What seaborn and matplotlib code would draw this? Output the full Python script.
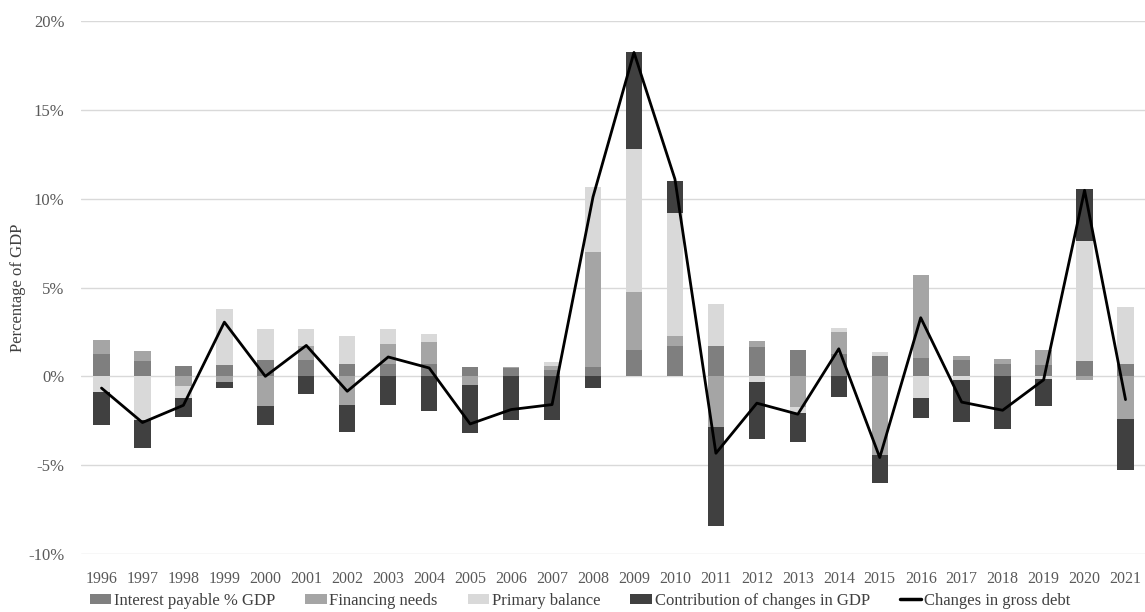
import numpy as np
import matplotlib
matplotlib.use("Agg")
import matplotlib.pyplot as plt
from matplotlib.patches import Patch
from matplotlib.lines import Line2D
from matplotlib.ticker import FuncFormatter
import seaborn as sns

# Debt dynamics decomposition, % of GDP
years = [str(y) for y in range(1996, 2022)]

interest_payable = [1.27, 0.84, 0.60, 0.64, 0.94, 0.90, 0.69, 0.71, 0.71, 0.52,
                    0.47, 0.34, 0.52, 1.51, 1.71, 1.71, 1.63, 1.47, 1.28, 1.17,
                    1.04, 0.91, 0.69, 0.66, 0.88, 0.71]

financing_needs = [0.79, 0.56, -0.52, -0.32, -1.69, 0.79, -1.59, 1.12, 1.24, -0.50,
                   0.06, 0.26, 6.48, 3.22, 0.56, -2.86, 0.34, -1.75, 1.21, -4.43,
                   4.66, 0.23, 0.28, 0.84, -0.19, -2.38]

primary_balance = [-0.90, -2.47, -0.69, 3.13, 1.74, 0.99, 1.59, 0.82, 0.45, 0.00,
                   0.00, 0.21, 3.68, 8.07, 6.90, 2.37, -0.34, -0.32, 0.25, 0.21,
                   -1.23, -0.19, 0.00, -0.15, 6.72, 3.19]

gdp_contribution = [-1.82, -1.59, -1.07, -0.32, -1.03, -0.99, -1.55, -1.59, -1.93, -2.70,
                    -2.43, -2.43, -0.64, 5.43, 1.85, -5.59, -3.18, -1.60, -1.17, -1.57,
                    -1.13, -2.40, -2.95, -1.54, 2.96, -2.87]

gross_debt_change = [-0.66, -2.60, -1.63, 3.05, 0.00, 1.74, -0.84, 1.09, 0.47, -2.68,
                     -1.87, -1.59, 10.10, 18.23, 11.10, -4.33, -1.51, -2.13, 1.55, -4.57,
                     3.30, -1.45, -1.91, -0.20, 10.47, -1.31]

series_names = ["Interest payable % GDP", "Financing needs", "Primary balance",
                "Contribution of changes in GDP"]
series_values = [interest_payable, financing_needs, primary_balance, gdp_contribution]
series_colors = ["#7f7f7f", "#a5a5a5", "#d9d9d9", "#404040"]
line_name = "Changes in gross debt"

sns.set_theme(style="white")
plt.rcParams["font.family"] = ["Liberation Serif", "DejaVu Serif"]

W, H = 1145, 612
fig = plt.figure(figsize=(W / 100, H / 100), dpi=100)
ax = fig.add_axes([81 / W, 1 - 554 / H, (1146 - 81) / W, (554 - 21) / H])

# Stacked bars: positives build upward from zero, negatives downward
n = len(years)
pos_base = np.zeros(n)
neg_base = np.zeros(n)
for name, values, color in zip(series_names, series_values, series_colors):
    v = np.asarray(values, dtype=float)
    bottom = np.where(v >= 0, pos_base, neg_base)
    sns.barplot(x=years, y=v, bottom=bottom, color=color, saturation=1,
                width=0.4, linewidth=0, errorbar=None, ax=ax, zorder=2)
    pos_base += np.where(v >= 0, v, 0)
    neg_base += np.where(v < 0, v, 0)

sns.lineplot(x=np.arange(n), y=gross_debt_change, color="black", linewidth=2.0,
             ax=ax, zorder=3)

ax.set_xlim(-0.5, n - 0.5)
ax.set_ylim(-10, 20)
ax.set_yticks(range(-10, 21, 5))
ax.yaxis.set_major_formatter(FuncFormatter(lambda v, _: f"{int(v)}%"))
ax.set_xticks(range(n))
ax.set_xticklabels(years)
ax.grid(axis="y", color="#d9d9d9", linewidth=1.0, zorder=0)
ax.set_axisbelow(True)
for s in ax.spines.values():
    s.set_visible(False)
ax.tick_params(axis="both", length=0, labelsize=12, colors="#595959")
ax.tick_params(axis="x", labelsize=11.5, pad=12)
ax.tick_params(axis="y", pad=12)
ax.set_xlabel("")
ax.set_ylabel("")

fig.text(18 / W, 1 - 288 / H, "Percentage of GDP", rotation=90, ha="center",
         va="center", fontsize=12, color="#404040")

handles = [Patch(facecolor=c, edgecolor="none") for c in series_colors]
handles.append(Line2D([0], [0], color="black", linewidth=2.5))
fig.legend(handles, series_names + [line_name], loc="center",
           bbox_to_anchor=(580 / W, 1 - 601 / H), ncol=5, frameon=False,
           fontsize=12, handlelength=1.3, handleheight=0.6, handletextpad=0.15,
           columnspacing=1.8, labelcolor="#404040")

fig.savefig("out.png", dpi=100)
